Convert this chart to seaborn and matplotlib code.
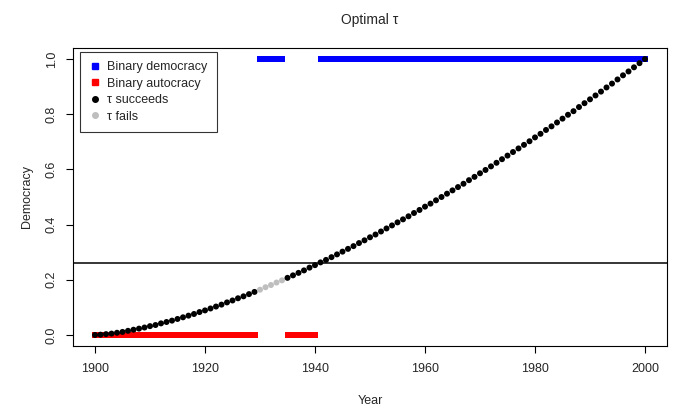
import numpy as np
import pandas as pd
import matplotlib
matplotlib.use("Agg")
import matplotlib.pyplot as plt
import seaborn as sns
from matplotlib.lines import Line2D

years = list(range(1900, 2001))
democracy = [0.000, 0.001, 0.003, 0.005, 0.008, 0.011, 0.015, 0.019, 0.023, 0.027,
             0.032, 0.036, 0.042, 0.047, 0.052, 0.058, 0.064, 0.070, 0.076, 0.083,
             0.089, 0.096, 0.103, 0.110, 0.118, 0.125, 0.133, 0.140, 0.148, 0.156,
             0.164, 0.173, 0.181, 0.190, 0.198, 0.207, 0.216, 0.225, 0.234, 0.244,
             0.253, 0.263, 0.272, 0.282, 0.292, 0.302, 0.312, 0.322, 0.333, 0.343,
             0.354, 0.364, 0.375, 0.386, 0.397, 0.408, 0.419, 0.430, 0.442, 0.453,
             0.465, 0.476, 0.488, 0.500, 0.512, 0.524, 0.536, 0.548, 0.561, 0.573,
             0.586, 0.598, 0.611, 0.624, 0.637, 0.650, 0.663, 0.676, 0.689, 0.702,
             0.716, 0.729, 0.743, 0.756, 0.770, 0.784, 0.798, 0.811, 0.826, 0.840,
             0.854, 0.868, 0.882, 0.897, 0.911, 0.926, 0.941, 0.955, 0.970, 0.985,
             1.000]
tau_fail_years = [1930, 1931, 1932, 1933, 1934]
binary_democracy_years = list(range(1930, 1935)) + list(range(1941, 2001))
binary_autocracy_years = list(range(1900, 1930)) + list(range(1935, 1941))
threshold = 0.262

df = pd.DataFrame({"year": years, "dem": democracy})
df["status"] = np.where(df["year"].isin(tau_fail_years), "fails", "succeeds")
bd = pd.DataFrame({"year": binary_democracy_years, "val": 1.0})
ba = pd.DataFrame({"year": binary_autocracy_years, "val": 0.0})

sns.set_style("white")
plt.rcParams["font.family"] = ["Liberation Sans", "DejaVu Sans"]

fig = plt.figure(figsize=(6.75, 4.13), dpi=100)
ax = fig.add_axes([73/675, 1-346/413, (667-73)/675, (346-48)/413])

sns.scatterplot(data=bd, x="year", y="val", marker="s", color="#0000FF", s=4.4**2,
                linewidth=0, ax=ax, legend=False, zorder=2)
sns.scatterplot(data=ba, x="year", y="val", marker="s", color="#FF0000", s=4.4**2,
                linewidth=0, ax=ax, legend=False, zorder=2)
sns.scatterplot(data=df, x="year", y="dem", hue="status",
                palette={"succeeds": "black", "fails": "#BEBEBE"},
                s=4.3**2, linewidth=0, ax=ax, legend=False, zorder=3)
ax.axhline(threshold, color="black", lw=1.1, zorder=1)

ax.set_xlim(1896, 2004)
ax.set_ylim(-0.04, 1.04)
ax.set_xticks([1900, 1920, 1940, 1960, 1980, 2000])
ax.set_yticks([0.0, 0.2, 0.4, 0.6, 0.8, 1.0])
ax.set_yticklabels(["0.0", "0.2", "0.4", "0.6", "0.8", "1.0"], rotation=90, va="center")
ax.tick_params(axis="both", which="both", direction="out", length=5, width=0.8,
               color="black", labelsize=9, left=True, bottom=True)
ax.tick_params(axis="x", pad=7)
ax.tick_params(axis="y", pad=6)
for s in ax.spines.values():
    s.set_color("black")
    s.set_linewidth(0.8)
    s.set_visible(True)
ax.set_xlabel("Year", fontsize=9, labelpad=15)
ax.set_ylabel("Democracy", fontsize=9, labelpad=9)
ax.set_title("Optimal \u03c4", fontsize=10, pad=17)

handles = [
    Line2D([], [], marker="s", color="#0000FF", ls="", markersize=4.5),
    Line2D([], [], marker="s", color="#FF0000", ls="", markersize=4.5),
    Line2D([], [], marker="o", color="black", ls="", markersize=4),
    Line2D([], [], marker="o", color="#BEBEBE", ls="", markersize=4),
]
labels = ["Binary democracy", "Binary autocracy", "\u03c4 succeeds", "\u03c4 fails"]
leg = ax.legend(handles, labels, loc="upper left", bbox_to_anchor=(0.012, 0.987),
                fontsize=9, frameon=True, fancybox=False, edgecolor="black",
                borderpad=0.75, labelspacing=0.36, handlelength=0.8, handletextpad=0.6,
                borderaxespad=0)
leg.get_frame().set_linewidth(0.8)

fig.savefig("out.png", dpi=100)
